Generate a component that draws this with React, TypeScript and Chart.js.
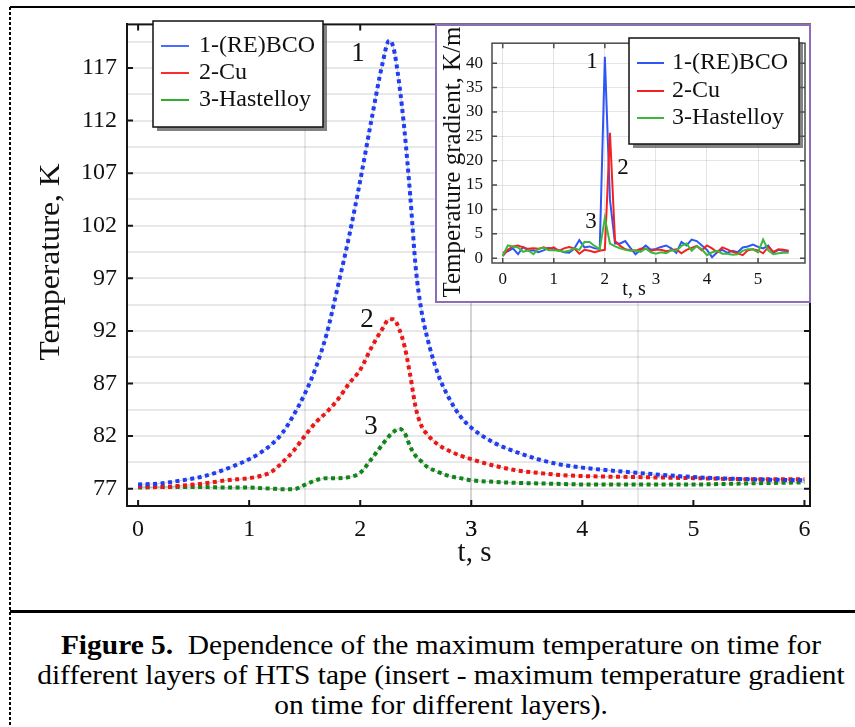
import React, { useEffect, useRef } from 'react';
import { Chart, registerables } from 'chart.js';

Chart.register(...registerables);

const SERIF = '"Liberation Serif", "Times New Roman", Times, serif';

// ---------- data: main chart ----------
const seriesNames = ['1-(RE)BCO', '2-Cu', '3-Hastelloy'];
const seriesMarks = ['1', '2', '3'];

const timeMain = [0, 0.2, 0.4, 0.6, 0.8, 1.0, 1.1, 1.2, 1.3, 1.4, 1.5, 1.6, 1.7, 1.8, 1.9, 2.0, 2.1, 2.2, 2.26, 2.3, 2.35, 2.4, 2.45, 2.5, 2.55, 2.6, 2.7, 2.8, 2.9, 3.0, 3.2, 3.4, 3.6, 3.8, 4.0, 4.5, 5.0, 5.5, 6.0];
const tempBCO = [77.4, 77.5, 77.8, 78.2, 78.9, 79.8, 80.4, 81.2, 82.3, 84.0, 86.0, 88.5, 91.8, 96.3, 101.0, 106.3, 112.0, 117.4, 119.6, 118.9, 115.6, 110.9, 104.9, 98.0, 94.0, 91.5, 87.9, 85.6, 83.9, 82.8, 81.4, 80.5, 79.8, 79.3, 79.0, 78.5, 78.1, 77.9, 77.8];
const tempCu = [77.2, 77.15, 77.3, 77.5, 77.8, 78.0, 78.2, 78.6, 79.5, 80.6, 82.0, 83.3, 84.3, 85.5, 87.0, 88.3, 90.4, 92.2, 93.1, 93.1, 92.2, 90.5, 87.8, 84.7, 83.0, 82.2, 81.2, 80.6, 80.15, 79.8, 79.2, 78.75, 78.5, 78.3, 78.2, 78.1, 78.0, 77.9, 77.9];
const tempHast = [77.1, 77.15, 77.15, 77.15, 77.1, 77.1, 77.05, 77.0, 76.95, 76.95, 77.35, 77.8, 78.0, 78.0, 78.1, 78.5, 79.8, 81.2, 82.0, 82.4, 82.7, 82.3, 81.0, 80.1, 79.6, 79.1, 78.6, 78.2, 78.0, 77.8, 77.65, 77.55, 77.5, 77.45, 77.4, 77.4, 77.4, 77.5, 77.6];

const mainXLabels = [0, 1, 2, 3, 4, 5, 6];
const mainXGrid = [1.5, 3, 4.5];
const mainYLabels = [77, 82, 87, 92, 97, 102, 107, 112, 117];
const mainYGrid = [77, 79.5, 82, 84.5, 87, 89.5, 92, 94.5, 97, 99.5, 102, 104.5, 107, 109.5, 112, 114.5, 117, 119.5];

// ---------- data: inset ----------
const timeInset = [0.0, 0.1, 0.2, 0.3, 0.4, 0.5, 0.6, 0.7, 0.8, 0.9, 1.0, 1.1, 1.2, 1.3, 1.4, 1.5, 1.6, 1.7, 1.8, 1.9, 2.0, 2.1, 2.2, 2.3, 2.4, 2.5, 2.6, 2.7, 2.8, 2.9, 3.0, 3.1, 3.2, 3.3, 3.4, 3.5, 3.6, 3.7, 3.8, 3.9, 4.0, 4.1, 4.2, 4.3, 4.4, 4.5, 4.6, 4.7, 4.8, 4.9, 5.0, 5.1, 5.2, 5.3, 5.4, 5.5, 5.6];
const gradBCO = [1.1, 1.4, 2.0, 0.8, 2.3, 1.5, 1.6, 1.2, 1.6, 2.1, 1.8, 1.6, 1.2, 1.1, 1.9, 3.7, 2.2, 2.4, 2.0, 1.9, 41.3, 12.0, 3.0, 3.0, 3.5, 2.1, 0.8, 1.7, 2.6, 1.7, 1.9, 2.3, 2.6, 2.0, 1.1, 3.3, 2.6, 3.8, 3.5, 2.6, 1.7, 0.2, 1.2, 1.7, 1.1, 1.5, 1.2, 2.2, 2.4, 2.8, 2.3, 2.0, 2.6, 1.1, 1.7, 1.5, 1.4];
const gradCu = [0.4, 1.7, 2.4, 2.6, 2.2, 1.9, 2.0, 1.9, 2.2, 1.9, 2.2, 1.5, 2.0, 2.3, 2.0, 0.9, 1.7, 1.5, 1.2, 1.5, 1.7, 25.7, 3.5, 2.5, 1.8, 1.6, 1.5, 1.9, 1.9, 1.5, 1.7, 1.7, 1.4, 1.6, 1.8, 1.0, 1.7, 2.1, 2.5, 1.6, 2.6, 2.0, 1.2, 2.2, 1.8, 1.3, 1.0, 0.6, 1.6, 1.8, 1.6, 1.0, 2.3, 1.3, 1.8, 1.7, 1.5];
const gradHast = [0.5, 2.6, 2.4, 2.2, 1.3, 1.6, 0.8, 1.9, 2.1, 1.6, 1.6, 1.5, 1.3, 1.5, 2.0, 1.7, 3.3, 3.3, 2.5, 1.8, 8.2, 3.0, 2.4, 2.0, 1.7, 1.5, 1.6, 1.3, 2.0, 1.2, 0.9, 1.2, 1.0, 1.6, 1.5, 2.5, 3.0, 1.5, 2.5, 1.8, 0.6, 1.2, 1.5, 0.9, 0.9, 0.7, 0.8, 1.5, 1.8, 1.8, 1.2, 3.8, 1.6, 0.8, 1.0, 1.1, 1.1];

const insetXLabels = [0, 1, 2, 3, 4, 5];
const insetYLabels = [0, 5, 10, 15, 20, 25, 30, 35, 40];

// ---------- colours ----------
const dotColors = ['#1f3df2', '#ee1515', '#11851a'];
const keyColors = ['#4a6cff', '#ff2a2a', '#2db02d'];
const insetColors = ['#2f55f5', '#f52020', '#3cb83c'];

const pts = (xs: number[], ys: number[]) => xs.map((x, i) => ({ x, y: ys[i] }));

function text(ctx: CanvasRenderingContext2D, s: string, x: number, y: number, font: string, o: any = {}) {
  ctx.save();
  ctx.translate(x, y);
  if (o.rot) ctx.rotate(o.rot);
  ctx.scale(o.sx || 1, o.sy || 1);
  ctx.font = font;
  ctx.fillStyle = o.color || '#111';
  ctx.textAlign = o.align || 'center';
  ctx.textBaseline = 'middle';
  ctx.fillText(s, 0, 0);
  ctx.restore();
}

function frameAndTicks(chart: any, xl: number[], yl: number[], color: string, lw: number, len: number) {
  const { ctx, chartArea: a, scales } = chart;
  ctx.save();
  ctx.strokeStyle = color;
  ctx.lineWidth = lw;
  ctx.strokeRect(a.left, a.top, a.right - a.left, a.bottom - a.top);
  ctx.beginPath();
  xl.forEach((v) => {
    const px = scales.x.getPixelForValue(v);
    ctx.moveTo(px, a.bottom); ctx.lineTo(px, a.bottom - len);
    ctx.moveTo(px, a.top); ctx.lineTo(px, a.top + len);
  });
  yl.forEach((v) => {
    const py = scales.y.getPixelForValue(v);
    ctx.moveTo(a.left, py); ctx.lineTo(a.left + len, py);
    ctx.moveTo(a.right, py); ctx.lineTo(a.right - len, py);
  });
  ctx.stroke();
  ctx.restore();
}

function legendBox(ctx: CanvasRenderingContext2D, x: number, y: number, w: number, h: number, rows: number[], lineX: number[], textX: number, colors: string[], font: string) {
  ctx.save();
  ctx.fillStyle = 'rgba(90,90,90,0.75)';
  ctx.fillRect(x + 4, y + 4, w, h);
  ctx.fillStyle = '#fff';
  ctx.fillRect(x, y, w, h);
  ctx.strokeStyle = '#111';
  ctx.lineWidth = 1.5;
  ctx.strokeRect(x, y, w, h);
  seriesNames.forEach((n, i) => {
    ctx.strokeStyle = colors[i];
    ctx.lineWidth = 2;
    ctx.beginPath();
    ctx.moveTo(lineX[0], rows[i]);
    ctx.lineTo(lineX[1], rows[i]);
    ctx.stroke();
    text(ctx, n, textX, rows[i], font, { align: 'left' });
  });
  ctx.restore();
}

const mainDecor = {
  id: 'mainDecor',
  afterDraw(chart: any) {
    const { ctx, scales } = chart;
    frameAndTicks(chart, mainXLabels, mainYLabels, '#151515', 2, 6);
    legendBox(ctx, 153, 21, 170, 106, [46, 73, 100], [161, 189], 199, keyColors, `24px ${SERIF}`);
    text(ctx, 'Temperature, K', 51, 262, `30px ${SERIF}`, { rot: -Math.PI / 2, sx: 1.05 });
    text(ctx, 't, s', (scales.x.left + scales.x.right) / 2 + 6, 553, `29px ${SERIF}`);
    text(ctx, seriesMarks[0], 358, 54, `27px ${SERIF}`);
    text(ctx, seriesMarks[1], 367, 320, `27px ${SERIF}`);
    text(ctx, seriesMarks[2], 371, 427, `27px ${SERIF}`);
  },
};

const insetDecor = {
  id: 'insetDecor',
  beforeDraw(chart: any) {
    const { ctx, width, height } = chart;
    ctx.save();
    ctx.fillStyle = '#fff';
    ctx.fillRect(0, 0, width, height);
    ctx.restore();
  },
  afterDraw(chart: any) {
    const { ctx, width, height } = chart;
    frameAndTicks(chart, insetXLabels, insetYLabels, '#4a4a4a', 1.5, 5);
    legendBox(ctx, 194, 14, 170, 106, [39, 67, 94], [202, 229], 237, insetColors, `24px ${SERIF}`);
    text(ctx, 'Temperature gradient, K/m', 18, 138, `25px ${SERIF}`, { rot: -Math.PI / 2 });
    text(ctx, 't, s', 199, 266, `20px ${SERIF}`);
    text(ctx, seriesMarks[0], 157, 38, `23px ${SERIF}`);
    text(ctx, seriesMarks[1], 188, 144, `23px ${SERIF}`);
    text(ctx, seriesMarks[2], 156, 198, `23px ${SERIF}`);
    ctx.save();
    ctx.strokeStyle = '#8d6cb8';
    ctx.lineWidth = 2;
    ctx.strokeRect(1, 1, width - 2, height - 2);
    ctx.restore();
  },
};

function MainChart() {
  const ref = useRef<HTMLCanvasElement>(null);
  useEffect(() => {
    const temps = [tempBCO, tempCu, tempHast];
    const dotted = temps.map((t, i) => ({
      label: seriesNames[i],
      data: pts(timeMain, t),
      borderColor: dotColors[i],
      borderWidth: 4,
      borderDash: [4, 3.5],
      borderCapStyle: 'butt',
      pointRadius: 0,
      cubicInterpolationMode: 'monotone',
      order: 1,
    }));
    const shade = temps.map((t, i) => ({
      label: seriesNames[i] + ' shade',
      data: pts(timeMain, t),
      borderColor: 'rgba(110,110,110,0.35)',
      borderWidth: 1.2,
      pointRadius: 0,
      cubicInterpolationMode: 'monotone',
      order: 2,
    }));
    const chart = new Chart(ref.current!, {
      type: 'line',
      data: { datasets: [...dotted, ...shade] as any },
      plugins: [mainDecor],
      options: {
        animation: false,
        responsive: false,
        devicePixelRatio: 1,
        layout: { padding: { left: 0, right: 45, top: 10, bottom: 0 } },
        plugins: { legend: { display: false }, tooltip: { enabled: false } },
        scales: {
          x: {
            type: 'linear',
            min: -0.1,
            max: 6.05,
            afterBuildTicks: (s: any) => { s.ticks = [...mainXLabels, ...mainXGrid].sort((a, b) => a - b).map((v) => ({ value: v })); },
            afterFit: (s: any) => { s.height = 94; },
            grid: {
              color: (c: any) => (c.tick && mainXGrid.includes(c.tick.value) ? 'rgba(0,0,0,0.09)' : 'rgba(0,0,0,0)'),
              lineWidth: 2,
              drawTicks: false,
            },
            border: { display: true, color: '#151515', width: 2 },
            ticks: {
              autoSkip: false,
              maxRotation: 0,
              padding: 9,
              color: '#111',
              font: { family: SERIF, size: 24 },
              callback: (v: any) => (mainXLabels.includes(Number(v)) ? String(v) : ''),
            },
          },
          y: {
            type: 'linear',
            min: 75.35,
            max: 121.15,
            afterBuildTicks: (s: any) => { s.ticks = mainYGrid.map((v) => ({ value: v })); },
            afterFit: (s: any) => { s.width = 127; },
            grid: { color: 'rgba(0,0,0,0.09)', lineWidth: 2, drawTicks: false },
            border: { display: true, color: '#151515', width: 2 },
            ticks: {
              autoSkip: false,
              padding: 10,
              color: '#111',
              font: { family: SERIF, size: 24 },
              callback: (v: any) => (mainYLabels.includes(Number(v)) ? String(v) : ''),
            },
          },
        },
      } as any,
    });
    return () => chart.destroy();
  }, []);
  return <canvas ref={ref} width={855} height={600} style={{ position: 'absolute', left: 0, top: 0, width: 855, height: 600 }} />;
}

function InsetChart() {
  const ref = useRef<HTMLCanvasElement>(null);
  useEffect(() => {
    const grads = [gradBCO, gradCu, gradHast];
    const chart = new Chart(ref.current!, {
      type: 'line',
      data: {
        datasets: grads.map((g, i) => ({
          label: seriesNames[i],
          data: pts(timeInset, g),
          borderColor: insetColors[i],
          borderWidth: 2,
          pointRadius: 0,
          tension: 0,
          order: 3 - i,
        })) as any,
      },
      plugins: [insetDecor],
      options: {
        animation: false,
        responsive: false,
        devicePixelRatio: 1,
        layout: { padding: { left: 0, right: 6, top: 8, bottom: 0 } },
        plugins: { legend: { display: false }, tooltip: { enabled: false } },
        scales: {
          x: {
            type: 'linear',
            min: -0.21,
            max: 5.92,
            afterBuildTicks: (s: any) => { s.ticks = insetXLabels.map((v) => ({ value: v })); },
            afterFit: (s: any) => { s.height = 40; },
            grid: { color: 'rgba(0,0,0,0.1)', lineWidth: 1, drawTicks: false },
            border: { display: false },
            ticks: { autoSkip: false, maxRotation: 0, padding: 6, color: '#111', font: { family: SERIF, size: 17 } },
          },
          y: {
            type: 'linear',
            min: -1,
            max: 44.1,
            afterBuildTicks: (s: any) => { s.ticks = insetYLabels.map((v) => ({ value: v })); },
            afterFit: (s: any) => { s.width = 57; },
            grid: { color: 'rgba(0,0,0,0.1)', lineWidth: 1, drawTicks: false },
            border: { display: false },
            ticks: { autoSkip: false, padding: 9, color: '#111', font: { family: SERIF, size: 17 } },
          },
        },
      } as any,
    });
    return () => chart.destroy();
  }, []);
  return <canvas ref={ref} width={376} height={279} style={{ position: 'absolute', left: 435, top: 24, width: 376, height: 279 }} />;
}

export default function App() {
  return (
    <div style={{ position: 'absolute', left: 0, top: 0, width: 855, height: 727, background: '#fff', overflow: 'hidden' }}>
      <div
        style={{
          position: 'absolute', left: 9, top: 7, width: 2, height: 720,
          background: 'repeating-linear-gradient(to bottom, #000 0px, #000 3px, transparent 3px, transparent 5px)',
        }}
      />
      <div style={{ position: 'absolute', left: 10, top: 6, width: 845, height: 2, background: '#000' }} />
      <MainChart />
      <InsetChart />
      <div style={{ position: 'absolute', left: 10, top: 610, width: 845, height: 3, background: '#000' }} />
      <div
        style={{
          position: 'absolute', left: 0, top: 630, width: 882, textAlign: 'center',
          fontFamily: SERIF, fontSize: 27.5, lineHeight: '30px', color: '#000',
          whiteSpace: 'nowrap', transform: 'scaleX(1.07)', transformOrigin: '441px 0px',
        }}
      >
        <b>Figure 5.</b>&nbsp; Dependence of the maximum temperature on time for<br />
        different layers of HTS tape (insert - maximum temperature gradient<br />
        on time for different layers).
      </div>
    </div>
  );
}
